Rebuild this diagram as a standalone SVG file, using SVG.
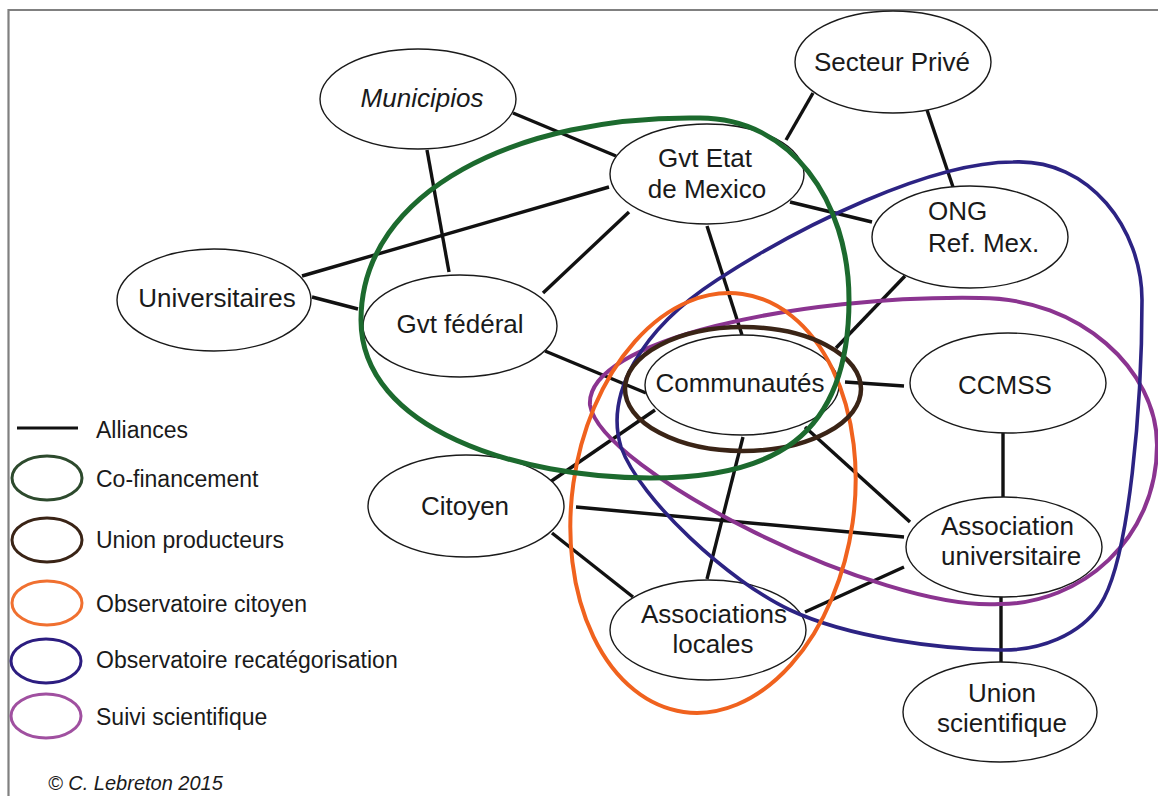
<svg xmlns="http://www.w3.org/2000/svg" width="1158" height="796" viewBox="0 0 1158 796">
<style>
.n{fill:#fff;stroke:#1a1a1a;stroke-width:1.4}
.t{font-family:"Liberation Sans",Arial,sans-serif;font-size:26px;fill:#1a1a1a}
.c{text-anchor:middle}
.lg{font-family:"Liberation Sans",Arial,sans-serif;font-size:23px;fill:#1a1a1a}
.e{stroke:#111;stroke-width:3.4;stroke-linecap:butt;fill:none}
.g{fill:none;stroke-linejoin:round}
</style>
<rect width="1158" height="796" fill="#fff"/>
<path d="M8.5 796V10H1158" fill="none" stroke="#808080" stroke-width="2.2"/>
<g id="connectors" class="e">
<line x1="513" y1="113" x2="616" y2="156"/>
<line x1="427" y1="150" x2="449" y2="272"/>
<line x1="302" y1="276" x2="609" y2="187"/>
<line x1="312" y1="297" x2="358" y2="309"/>
<line x1="629" y1="212" x2="543" y2="293"/>
<line x1="707" y1="226" x2="742" y2="335"/>
<line x1="790" y1="202" x2="872" y2="222"/>
<line x1="813" y1="93" x2="786" y2="140"/>
<line x1="927" y1="110" x2="953" y2="187"/>
<line x1="905" y1="276" x2="836" y2="348"/>
<line x1="545" y1="351" x2="646" y2="393"/>
<line x1="845" y1="382" x2="904" y2="386"/>
<line x1="655" y1="410" x2="550" y2="482"/>
<line x1="743" y1="437" x2="707" y2="579"/>
<line x1="805" y1="427" x2="910" y2="522"/>
<line x1="576" y1="507" x2="904" y2="537"/>
<line x1="552" y1="533" x2="633" y2="597"/>
<line x1="805" y1="612" x2="904" y2="567"/>
<line x1="1003" y1="433" x2="1003" y2="497"/>
<line x1="1001" y1="597" x2="1001" y2="662"/>
</g>
<g id="n-municipios"><ellipse class="n" cx="418" cy="99" rx="98" ry="50"/><text class="t c" x="422" y="107" font-style="italic">Municipios</text></g>
<g id="n-secteur"><ellipse class="n" cx="893" cy="62" rx="98" ry="51"/><text class="t c" x="892" y="71">Secteur Privé</text></g>
<g id="n-gvtetat"><ellipse class="n" cx="707" cy="174" rx="97" ry="50"/><text class="t c" x="705" y="167">Gvt Etat</text><text class="t c" x="707" y="198">de Mexico</text></g>
<g id="n-ong"><ellipse class="n" cx="970" cy="237" rx="98" ry="51"/><text class="t" x="928" y="220">ONG</text><text class="t" x="928" y="252">Ref. Mex.</text></g>
<g id="n-universitaires"><ellipse class="n" cx="214" cy="300" rx="97" ry="51"/><text class="t c" x="217" y="307">Universitaires</text></g>
<g id="n-gvtfederal"><ellipse class="n" cx="460" cy="326" rx="97" ry="51"/><text class="t c" x="460" y="333">Gvt fédéral</text></g>
<g id="n-communautes"><ellipse class="n" cx="742" cy="385" rx="97" ry="50"/><text class="t c" x="740" y="392">Communautés</text></g>
<g id="n-ccmss"><ellipse class="n" cx="1008" cy="383" rx="98" ry="50"/><text class="t c" x="1005" y="394">CCMSS</text></g>
<g id="n-citoyen"><ellipse class="n" cx="466" cy="506" rx="98" ry="51"/><text class="t c" x="465" y="515">Citoyen</text></g>
<g id="n-assouniv"><ellipse class="n" cx="1004" cy="547" rx="98" ry="50"/><text class="t" x="941" y="535">Association</text><text class="t" x="941" y="565">universitaire</text></g>
<g id="n-assoloc"><ellipse class="n" cx="708" cy="630" rx="98" ry="50"/><text class="t c" x="714" y="623">Associations</text><text class="t c" x="713" y="653">locales</text></g>
<g id="n-unionsci"><ellipse class="n" cx="1000" cy="712" rx="97" ry="50"/><text class="t c" x="1002" y="702">Union</text><text class="t c" x="1002" y="732">scientifique</text></g>
<g id="groups">
<path id="g-suivi" class="g" stroke="#8b3490" stroke-width="4" d="M590 405C585 340 800 295 980 298C1080 298 1157 370 1157 445C1157 540 1080 604 1000 604C880 612 600 470 590 405Z"/>
<path id="g-recat" class="g" stroke="#2c2383" stroke-width="3.6" d="M1013 162C1090 158 1142 230 1142 300C1142 400 1130 560 1100 605C1080 635 1040 651 1000 650C940 649 850 638 790 610C730 582 640 500 621 447C605 395 640 330 717 280C800 226 930 162 1013 162Z"/>
<ellipse id="g-obs" class="g" cx="713" cy="503" rx="141" ry="211" transform="rotate(8 713 503)" stroke="#f0621e" stroke-width="4"/>
<ellipse id="g-union" class="g" cx="743" cy="389" rx="118" ry="62" stroke="#3a2416" stroke-width="4.5"/>
<path id="g-cofin" class="g" stroke="#1c6a2e" stroke-width="5" d="M700 118C790 118 849 200 849 300C849 440 770 478 650 478C520 478 361 430 361 320C361 190 520 115 700 118Z"/>
</g>
<g id="legend">
<line x1="17" y1="428" x2="78" y2="428" stroke="#111" stroke-width="3"/>
<text class="lg" x="96" y="438">Alliances</text>
<ellipse cx="47" cy="478" rx="35" ry="22" fill="none" stroke="#2d4a2d" stroke-width="3"/>
<text class="lg" x="96" y="487">Co-financement</text>
<ellipse cx="47" cy="540" rx="35" ry="22" fill="none" stroke="#3a2416" stroke-width="3"/>
<text class="lg" x="96" y="548">Union producteurs</text>
<ellipse cx="47" cy="603" rx="35" ry="22" fill="none" stroke="#f07030" stroke-width="3"/>
<text class="lg" x="96" y="612">Observatoire citoyen</text>
<ellipse cx="46" cy="661" rx="35" ry="22" fill="none" stroke="#2c1d80" stroke-width="3"/>
<text class="lg" x="96" y="668">Observatoire recatégorisation</text>
<ellipse cx="46" cy="716" rx="35" ry="22" fill="none" stroke="#a050a0" stroke-width="3"/>
<text class="lg" x="96" y="725">Suivi scientifique</text>
<text x="48" y="790" font-family="Liberation Sans,Arial,sans-serif" font-size="20" font-style="italic" fill="#1a1a1a">© C. Lebreton 2015</text>
</g>
</svg>
